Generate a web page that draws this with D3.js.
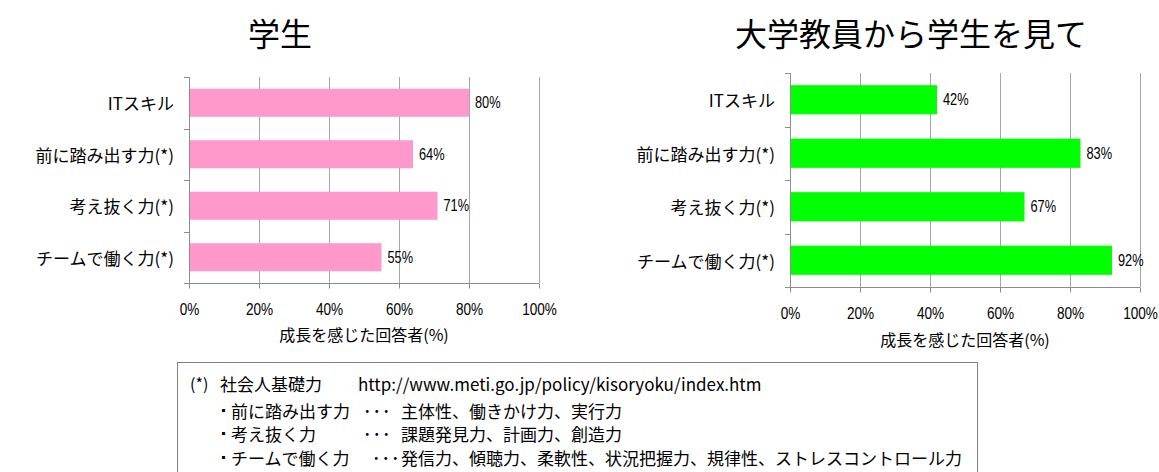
<!DOCTYPE html>
<html>
<head>
<meta charset="utf-8">
<script src="https://cdn.jsdelivr.net/npm/d3@7"></script>
<style>
  html, body { margin: 0; padding: 0; background: #ffffff; }
  svg { display: block; }
</style>
</head>
<body>
<script>
// ---------------- data ----------------
const categories = ["ITスキル", "前に踏み出す力(*)", "考え抜く力(*)", "チームで働く力(*)"];
const studentValues = [80, 64, 71, 55];
const facultyValues = [42, 83, 67, 92];
const xTickValues = [0, 20, 40, 60, 80, 100];
const panelTitles = ["学生", "大学教員から学生を見て"];
const axisTitleText = "成長を感じた回答者(%)";
const noteHeader = ["(*)", "社会人基礎力", "http://www.meti.go.jp/policy/kisoryoku/index.htm"];
const noteItems = ["前に踏み出す力", "考え抜く力", "チームで働く力"];
const noteDetails = ["主体性、働きかけ力、実行力", "課題発見力、計画力、創造力", "発信力、傾聴力、柔軟性、状況把握力、規律性、ストレスコントロール力"];

// ---------------- layout ----------------
const W = 1159, H = 472;
const JP = "'Noto Sans CJK JP', 'Noto Sans', sans-serif";
const NUM = "'Liberation Sans', Arial, sans-serif";
const NUM_SQUEEZE = 0.8;

const svg = d3.select("body").append("svg").attr("width", W).attr("height", H);

const panels = [
  { values: studentValues, title: panelTitles[0], color: "#ff99cc", x0: 189, x1: 539, y0: 77, y1: 283, titleX: 280, titleY: 32, tickLabelY: 308, axisTitleY: 334 },
  { values: facultyValues, title: panelTitles[1], color: "#00ff00", x0: 790, x1: 1140, y0: 73, y1: 287, titleX: 911, titleY: 32, tickLabelY: 312, axisTitleY: 339 }
];

panels.forEach(p => {
  const g = svg.append("g");
  const x = d3.scaleLinear().domain([0, 100]).range([p.x0, p.x1]);
  const y = d3.scaleBand().domain(categories).range([p.y0, p.y1]).paddingInner(0.455).paddingOuter(0.2275);

  // title
  g.append("text").attr("x", p.titleX).attr("y", p.titleY)
    .attr("text-anchor", "middle").attr("dominant-baseline", "central")
    .style("font-family", JP).style("font-size", "32px").attr("fill", "#000")
    .text(p.title);

  // gridlines
  g.selectAll("line.grid").data(xTickValues.filter(d => d > 0)).join("line")
    .attr("class", "grid")
    .attr("x1", d => Math.round(x(d)) + 0.5).attr("x2", d => Math.round(x(d)) + 0.5)
    .attr("y1", p.y0).attr("y2", p.y1)
    .attr("stroke", "#a6a6a6").attr("stroke-width", 1);

  // bars
  g.selectAll("rect.bar").data(categories).join("rect")
    .attr("class", "bar")
    .attr("x", x(0)).attr("y", d => y(d))
    .attr("width", (d, i) => x(p.values[i]) - x(0))
    .attr("height", y.bandwidth())
    .attr("fill", p.color);

  // left axis (line + ticks at band boundaries)
  const boundaries = d3.range(categories.length + 1).map(i => p.y0 + i * (p.y1 - p.y0) / categories.length);
  g.append("line")
    .attr("x1", Math.round(x(0)) + 0.5).attr("x2", Math.round(x(0)) + 0.5)
    .attr("y1", p.y0).attr("y2", p.y1 + 5)
    .attr("stroke", "#8c8c8c");
  g.selectAll("line.ytick").data(boundaries).join("line")
    .attr("class", "ytick")
    .attr("x1", Math.round(x(0)) - 5).attr("x2", Math.round(x(0)))
    .attr("y1", d => Math.round(d) + 0.5).attr("y2", d => Math.round(d) + 0.5)
    .attr("stroke", "#8c8c8c");

  // bottom axis
  const ax = g.append("g").attr("transform", `translate(0,${Math.round(p.y1) + 0.5})`)
    .call(d3.axisBottom(x).tickValues(xTickValues).tickFormat(d => d + "%").tickSize(5).tickSizeOuter(0));
  ax.select(".domain").attr("stroke", "#8c8c8c").attr("d", `M${Math.round(x(0)) - 5},0H${p.x1}`);
  ax.selectAll(".tick line").attr("stroke", "#8c8c8c");
  ax.selectAll(".tick text")
    .attr("y", p.tickLabelY - Math.round(p.y1)).attr("dy", null)
    .attr("dominant-baseline", "central")
    .attr("transform", `scale(${NUM_SQUEEZE},1)`)
    .style("font-family", NUM).style("font-size", "17px").attr("fill", "#000");

  // category labels
  g.selectAll("text.cat").data(categories).join("text")
    .attr("class", "cat")
    .attr("x", x(0) - 15).attr("y", d => y(d) + y.bandwidth() / 2)
    .attr("text-anchor", "end").attr("dominant-baseline", "central")
    .style("font-family", JP).style("font-size", "17px").attr("fill", "#000")
    .text(d => d);

  // value labels
  g.selectAll("g.val").data(categories).join("g")
    .attr("class", "val")
    .attr("transform", (d, i) => `translate(${x(p.values[i]) + 6},${y(d) + y.bandwidth() / 2})`)
    .append("text")
    .attr("transform", `scale(${NUM_SQUEEZE},1)`)
    .attr("dominant-baseline", "central")
    .style("font-family", NUM).style("font-size", "16px").attr("fill", "#000")
    .text((d, i) => p.values[i] + "%");

  // axis title
  g.append("text").attr("x", (p.x0 + p.x1) / 2).attr("y", p.axisTitleY)
    .attr("text-anchor", "middle").attr("dominant-baseline", "central")
    .style("font-family", JP).style("font-size", "16px").attr("fill", "#000")
    .text(axisTitleText);
});

// ---------------- footnote box ----------------
const note = svg.append("g");
note.append("rect")
  .attr("x", 177.5).attr("y", 362.5).attr("width", 800).attr("height", 140)
  .attr("fill", "none").attr("stroke", "#000").attr("stroke-width", 1).attr("stroke-dasharray", "1,1");

const noteFont = sel => sel.style("font-family", JP).style("font-size", "17px").attr("fill", "#000").attr("dominant-baseline", "central");

note.append("text").attr("x", 190).attr("y", 383).call(noteFont).style("font-size", "16px").text(noteHeader[0]);
note.append("text").attr("x", 220).attr("y", 383).call(noteFont).text(noteHeader[1]);
note.append("text").attr("x", 358).attr("y", 383).call(noteFont).text(noteHeader[2]);

const lineYs = [410, 433, 457];
const dotXs = [363, 363, 372];
noteItems.forEach((item, i) => {
  note.append("text").attr("x", 218).attr("y", lineYs[i]).call(noteFont).style("font-size", "11px").text("▪");
  note.append("text").attr("x", 231).attr("y", lineYs[i]).call(noteFont).text(item);
  note.append("text").attr("x", dotXs[i]).attr("y", lineYs[i]).call(noteFont).style("letter-spacing", "1px").text("･･･");
  note.append("text").attr("x", 401).attr("y", lineYs[i]).call(noteFont).text(noteDetails[i]);
});
</script>
</body>
</html>
